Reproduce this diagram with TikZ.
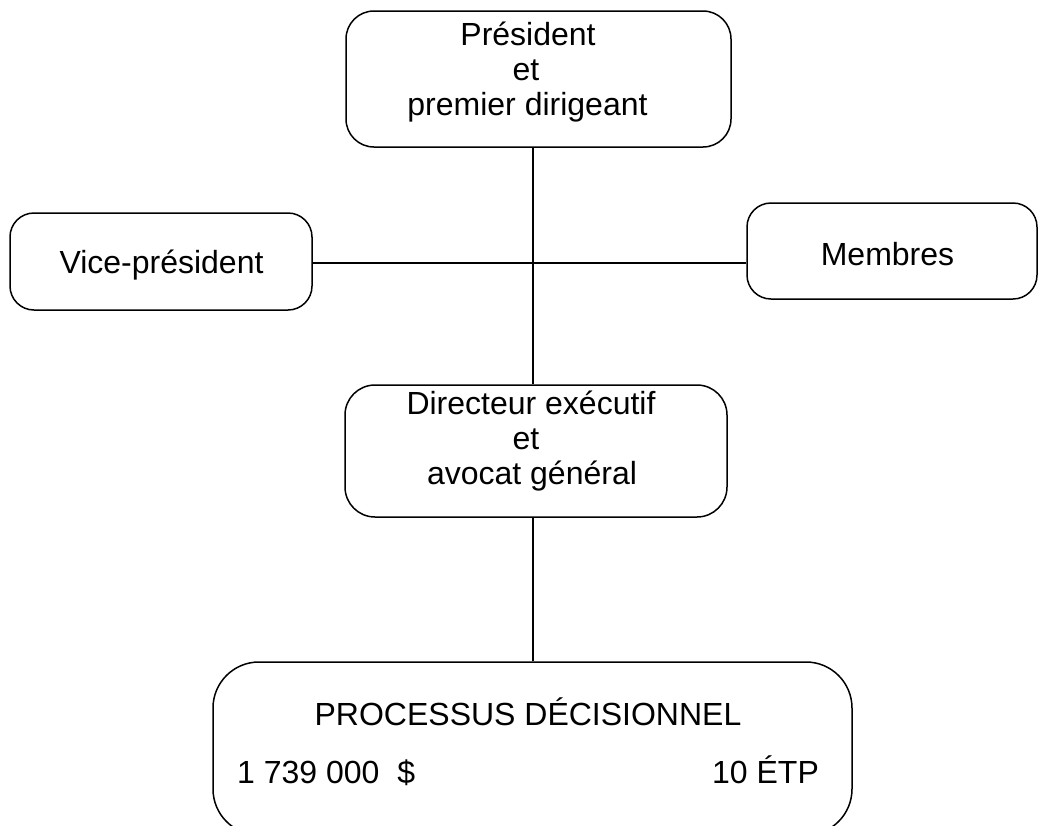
\documentclass[tikz,border=0pt]{standalone}
\usepackage{fontspec}
\setmainfont{Liberation Sans}
\begin{document}
\begin{tikzpicture}[x=1pt,y=-1pt,
  box/.style={draw=black, line width=1.5pt, rounded corners=#1, rectangle, inner sep=0pt},
  box/.default=28pt,
  txt/.style={inner sep=0pt, anchor=base, font=\fontsize{32}{36}\selectfont},
  link/.style={draw=black, line width=2.8pt}]
\useasboundingbox (0,0) rectangle (1039,825);
% boxes
\node[box, minimum width=385pt, minimum height=136pt] (pres) at (538.5,79) {};
\node[box=24pt, minimum width=302pt, minimum height=97pt] (vice) at (161,261.5) {};
\node[box=24pt, minimum width=290pt, minimum height=96pt] (memb) at (892,251) {};
\node[box=30pt, minimum width=382pt, minimum height=132pt] (dir) at (536,451) {};
\node[box=46pt, minimum width=639pt, minimum height=173pt] (proc) at (532.5,748.5) {};
% texts
\node[txt] (p1) at (528,45) {Président};
\node[txt] (p2) at (526,80) {et};
\node[txt] (p3) at (527.5,115) {premier dirigeant};
\node[txt] (v1) at (161.5,273) {Vice-président};
\node[txt] (m1) at (887.5,265) {Membres};
\node[txt] (d1) at (531,414) {Directeur exécutif};
\node[txt] (d2) at (526,449) {et};
\node[txt] (d3) at (532,484) {avocat général};
\node[txt] (c1) at (528,725) {PROCESSUS DÉCISIONNEL};
\node[txt, anchor=base west] (c2) at (237,783) {1 739 000~~\$};
\node[txt, anchor=base west] (c3) at (712,783) {10 ÉTP};
% connectors
\coordinate (axis) at (533,263);
\draw[link] (pres.south -| axis) -- (dir.north -| axis);
\draw[link] (dir.south -| axis) -- (proc.north -| axis);
\draw[link] (vice.east |- axis) -- (memb.west |- axis);
\end{tikzpicture}
\end{document}
